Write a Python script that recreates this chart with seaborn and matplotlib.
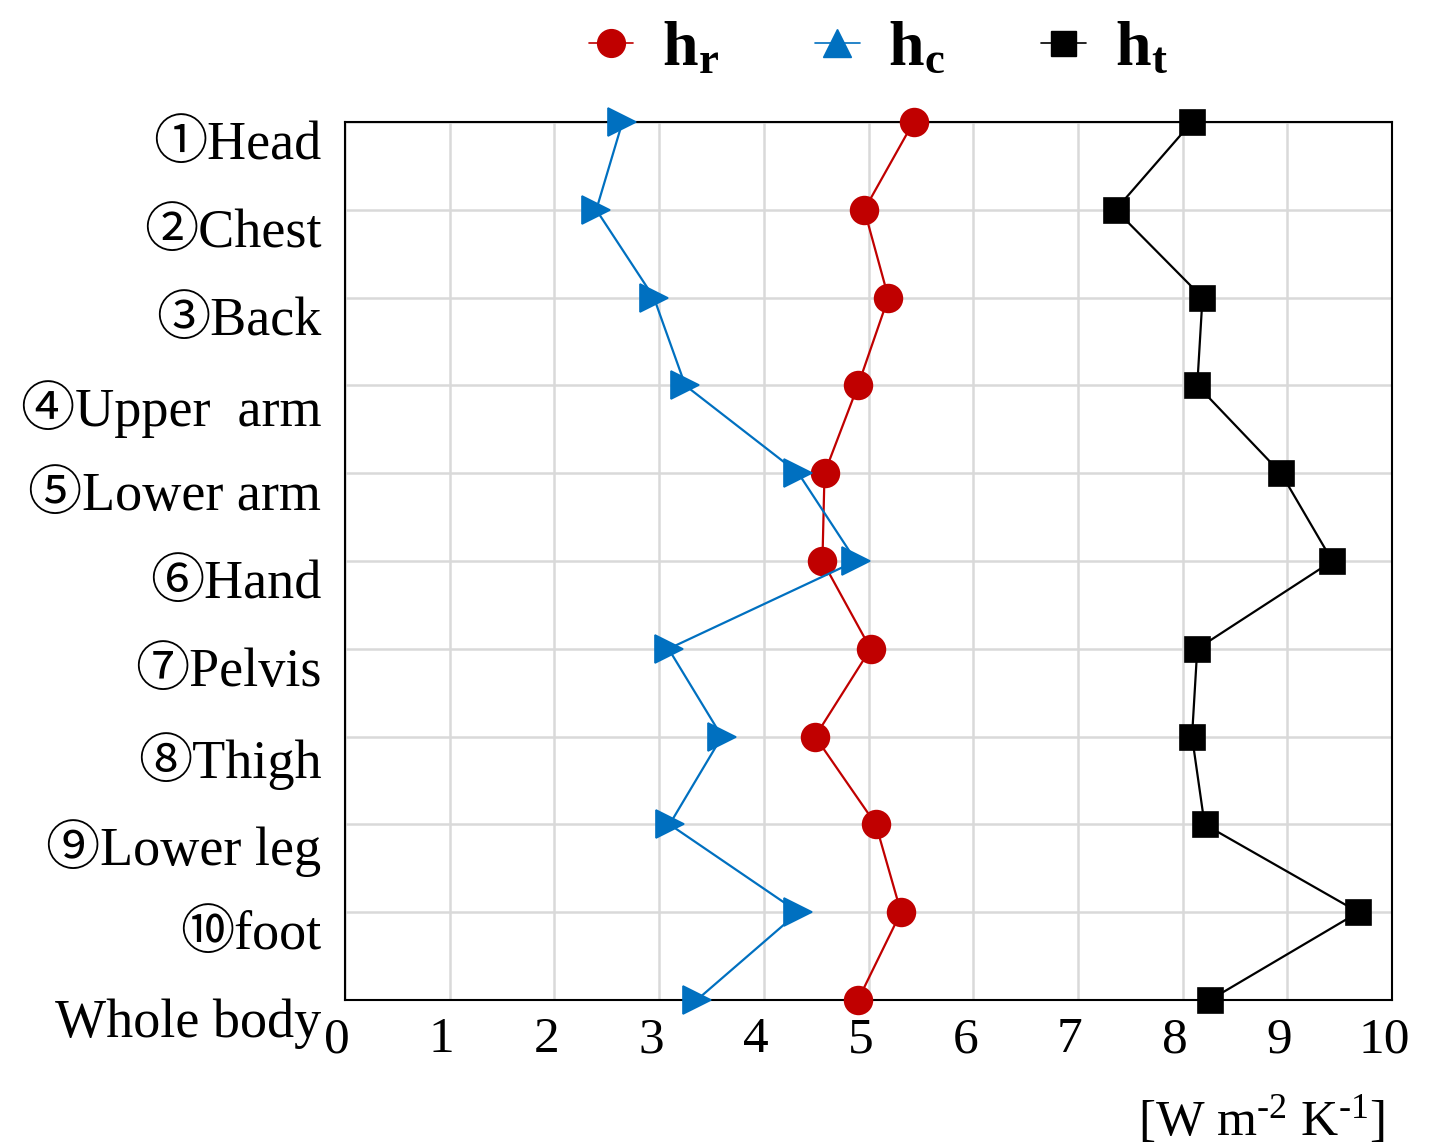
import matplotlib
matplotlib.use("Agg")
import matplotlib.pyplot as plt
import matplotlib.transforms as mtransforms
from matplotlib.lines import Line2D
import seaborn as sns
import pandas as pd

categories = ["①Head", "②Chest", "③Back", "④Upper  arm", "⑤Lower arm", "⑥Hand",
              "⑦Pelvis", "⑧Thigh", "⑨Lower leg", "⑩foot", "Whole body"]
hr = [5.43, 4.96, 5.19, 4.90, 4.58, 4.56, 5.02, 4.49, 5.07, 5.31, 4.90]
hc = [2.65, 2.40, 2.95, 3.25, 4.33, 4.88, 3.09, 3.60, 3.10, 4.33, 3.36]
ht = [8.09, 7.36, 8.19, 8.14, 8.94, 9.43, 8.14, 8.09, 8.21, 9.68, 8.26]
x_ticks = [0, 1, 2, 3, 4, 5, 6, 7, 8, 9, 10]

sns.set_style("white")
plt.rcParams["font.family"] = ["Liberation Serif", "Noto Sans CJK JP", "DejaVu Sans"]
plt.rcParams["mathtext.fontset"] = "custom"
plt.rcParams["mathtext.rm"] = "Liberation Serif"
plt.rcParams["mathtext.it"] = "Liberation Serif:italic"
plt.rcParams["mathtext.bf"] = "Liberation Serif:bold"
for key in ["text.color", "axes.labelcolor", "xtick.color", "ytick.color"]:
    plt.rcParams[key] = "black"

fig = plt.figure(figsize=(14.48, 11.44), dpi=100)
ax = fig.add_axes([345 / 1448, 1 - 1000 / 1144, (1392 - 345) / 1448, (1000 - 122) / 1144])

red = "#C00000"
blue = "#0070C0"
black = "#000000"

series = [
    (hr, red, "o", 20),
    (hc, blue, ">", 20),
    (ht, black, "s", 18),
]
for vals, col, mk, ms in series:
    df = pd.DataFrame({"value": vals, "part": categories})
    sns.pointplot(data=df, x="value", y="part", orient="h", color=col, markers=mk,
                  linestyles="-", errorbar=None, ax=ax, markersize=ms, linewidth=1.6)

for ln in ax.lines:
    ln.set_clip_on(False)
    ln.set_zorder(5)

ax.set_xlim(0, 10)
ax.set_ylim(len(categories) - 1, 0)
ax.set_xticks(x_ticks)
ax.set_xticklabels([str(t) for t in x_ticks])
ax.set_xlabel("")
ax.set_ylabel("")
ax.grid(True, axis="both", color="#D9D9D9", linewidth=1.8)
ax.set_axisbelow(True)
for sp in ax.spines.values():
    sp.set_color("black")
    sp.set_linewidth(1.5)

ax.tick_params(axis="x", length=0, labelsize=37, pad=12)
ax.tick_params(axis="y", length=0, labelsize=39, pad=17)

off_y = mtransforms.ScaledTranslation(0, -18 / 100, fig.dpi_scale_trans)
for lab in ax.get_yticklabels():
    lab.set_transform(lab.get_transform() + off_y)
off_x = mtransforms.ScaledTranslation(-8 / 100, 0, fig.dpi_scale_trans)
for lab in ax.get_xticklabels():
    lab.set_transform(lab.get_transform() + off_x)

fig.text(1385 / 1448, 1 - 1120 / 1144, "[W m$^{\\mathregular{\u20102}}$ K$^{\\mathregular{\u20101}}$]",
         ha="right", va="center", fontsize=37)

handles = [
    Line2D([], [], color=red, marker="o", markersize=20, linewidth=1.2),
    Line2D([], [], color=blue, marker="^", markersize=20, linewidth=1.2),
    Line2D([], [], color=black, marker="s", markersize=18, linewidth=1.2),
]
labels = [r"$\mathbf{h_r}$", r"$\mathbf{h_c}$", r"$\mathbf{h_t}$"]
fig.legend(handles, labels, loc="center", bbox_to_anchor=(878 / 1448, 1 - 50 / 1144),
           ncol=3, frameon=False, fontsize=46, handlelength=0.7, handletextpad=0.45,
           columnspacing=1.5, borderpad=0)

fig.savefig("out.png", dpi=100)
